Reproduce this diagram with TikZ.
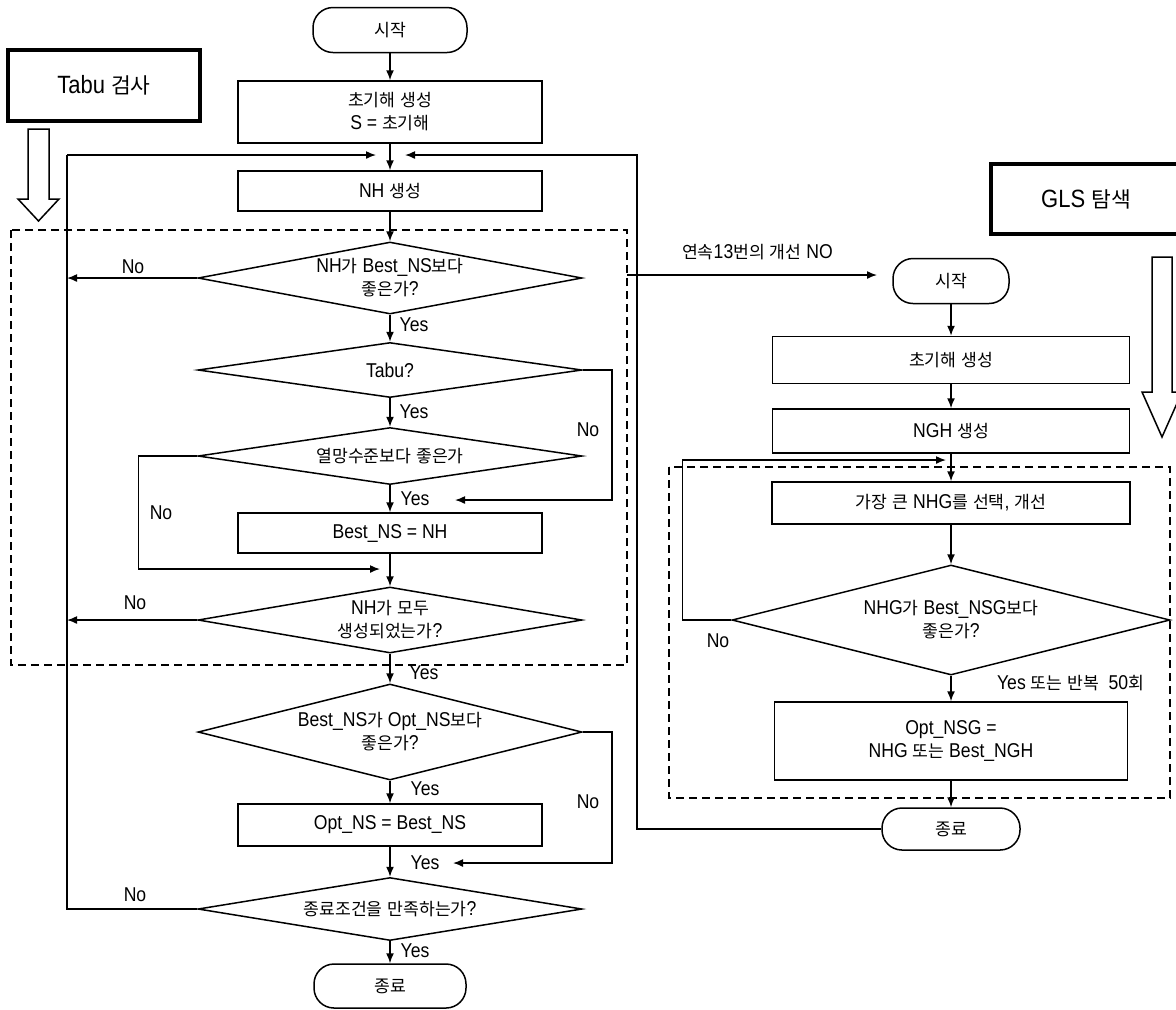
\documentclass[tikz,border=0pt]{standalone}
\usepackage{fontspec}
\usetikzlibrary{shapes.geometric,arrows.meta}
\setmainfont{Liberation Sans}[FakeStretch=0.88]
\newfontfamily\latinfont{Liberation Sans}[FakeStretch=0.88]
\newfontfamily\krfont{Noto Sans CJK KR}[Scale=0.86]
% hangul runs switch to the CJK font
\XeTeXinterchartokenstate=1
\newXeTeXintercharclass\hangulclass
\count255="AC00
\loop
  \XeTeXcharclass\count255=\hangulclass
  \advance\count255 by 1
\ifnum\count255<"D7A4
\repeat
\XeTeXinterchartoks 0 \hangulclass = {\krfont}
\XeTeXinterchartoks 4095 \hangulclass = {\krfont}
\XeTeXinterchartoks \hangulclass 0 = {\latinfont}
\XeTeXinterchartoks \hangulclass 4095 = {\latinfont}

\begin{document}
\begin{tikzpicture}[x=0.5pt,y=-0.5pt,font=\fontsize{10pt}{11.5pt}\selectfont,
  box/.style={draw,line width=0.75pt,minimum width=152pt,minimum height=20pt,inner sep=1pt,align=center},
  term/.style={draw,line width=0.75pt,rounded corners=10pt,minimum height=22.5pt,inner sep=1pt},
  cond/.style={draw,diamond,line width=0.75pt,inner sep=0pt,align=center},
  title/.style={draw,line width=2pt,font=\fontsize{12.5pt}{15pt}\selectfont},
  arr/.style={line width=0.75pt,-{Latex[length=5pt,width=4pt]}},
  ln/.style={line width=0.75pt},
  frame/.style={line width=0.75pt,dash pattern=on 4pt off 2.5pt}]
\useasboundingbox (0,0) rectangle (1176,1009);
\clip (0,0) rectangle (1176,1009);

% Tabu search
\node[title,minimum width=96pt,minimum height=35.5pt] (tabuhd) at (104,85) {Tabu 검사};
\draw[ln] (28,129) -- (49,129) -- (49,199) -- (59,199) -- (38.5,221) -- (18,199) -- (28,199) -- cycle;

\node[term,minimum width=77pt] (start) at (390,30) {시작};
\node[box,minimum height=31pt] (init) at (390,112) {초기해 생성\\S = 초기해};
\node[box] (nh) at (390,191) {NH 생성};
\node[cond,minimum width=192pt,minimum height=36pt,aspect=5.33] (better) at (390,278) {NH가 Best\_NS보다\\좋은가?};
\node[cond,minimum width=192pt,minimum height=27.5pt,aspect=7] (tabu) at (390,370) {Tabu?};
\node[cond,minimum width=192pt,minimum height=28.5pt,aspect=6.7] (aspir) at (390,456) {열망수준보다 좋은가};
\node[box] (bestset) at (390,533) {Best\_NS = NH};
\node[cond,minimum width=192pt,minimum height=33pt,aspect=5.8] (allgen) at (390,620) {NH가 모두\\생성되었는가?};
\node[cond,minimum width=192pt,minimum height=48pt,aspect=4] (optbetter) at (390,732) {Best\_NS가 Opt\_NS보다\\좋은가?};
\node[box,minimum height=21pt] (optset) at (390,825) {Opt\_NS = Best\_NS};
\node[cond,minimum width=192pt,minimum height=31.5pt,aspect=6.1] (stopchk) at (390,909) {종료조건을 만족하는가?};
\node[term,minimum width=76pt,minimum height=22pt] (stop) at (390,986) {종료};

\coordinate (jl) at (376,155);
\coordinate (jr) at (405,155);
\coordinate (lbus) at (67,155);
\coordinate (rbus) at (637,155);
\coordinate (tabuin) at (455,500);
\coordinate (aspout) at (380,569);
\coordinate (optin) at (453,863);

\draw[arr] (start) -- (init);
\draw[arr] (init) -- (nh);
\draw[arr] (nh) -- (better);
\draw[arr] (better) -- (tabu);
\draw[arr] (tabu) -- (aspir);
\draw[arr] (aspir) -- (bestset);
\draw[arr] (bestset) -- (allgen);
\draw[arr] (allgen) -- (optbetter);
\draw[arr] (optbetter) -- (optset);
\draw[arr] (optset) -- (stopchk);
\draw[arr] (stopchk) -- (stop);

\draw[ln] (stopchk.west) -| (lbus);
\draw[arr] (lbus) -- (jl);
\draw[arr] (better.west) -- (better.west -| lbus);
\draw[arr] (allgen.west) -- (allgen.west -| lbus);
\draw[arr] (tabu.east) -- ++(29,0) |- (tabuin);
\draw[arr] (aspir.west) -- ++(-59,0) |- (aspout);
\draw[arr] (optbetter.east) -- ++(29,0) |- (optin);

\draw[frame] (11,230) rectangle (627,665);

% GLS search
\node[title,minimum width=95pt,minimum height=35pt,anchor=west] (glshd) at (989,199) {GLS 탐색};
\draw[ln] (1152,257) -- (1172,257) -- (1172,392) -- (1182,392) -- (1162,437) -- (1142,392) -- (1152,392) -- cycle;

\node[term,minimum width=58pt] (gstart) at (951,281) {시작};
\node[box,minimum width=178.5pt,minimum height=23.5pt] (ginit) at (951,360) {초기해 생성};
\node[box,minimum width=178.5pt,minimum height=22pt] (ngh) at (951,431) {NGH 생성};
\node[box,minimum width=179pt,minimum height=21pt] (gsel) at (951,503) {가장 큰 NHG를 선택, 개선};
\node[cond,minimum width=219pt,minimum height=55pt,aspect=4] (gbetter) at (951,620) {NHG가 Best\_NSG보다\\좋은가?};
\node[box,minimum width=176.5pt,minimum height=39pt] (gopt) at (951,741) {Opt\_NSG =\\NHG 또는 Best\_NGH};
\node[term,minimum width=69pt,minimum height=21pt] (gstop) at (951,829) {종료};

\coordinate (fout) at (627,275);
\coordinate (gin) at (877,275);
\coordinate (gloop) at (946,460);

\node[anchor=west] (gcap) at (675,252) {연속13번의 개선 NO};
\draw[arr] (fout) -- (gin);
\draw[arr] (gstart) -- (ginit);
\draw[arr] (ginit) -- (ngh);
\draw[arr] (ngh) -- (gsel);
\draw[arr] (gsel) -- (gbetter);
\draw[arr] (gbetter) -- (gopt);
\draw[arr] (gopt) -- (gstop);
\draw[arr] (gbetter.west) -- ++(-49,0) |- (gloop);
\draw[arr] (gstop.west) -| (rbus) -- (jr);
\node[anchor=west] (gyes) at (990,683) {Yes 또는 반복~ 50회};

\draw[frame] (669,467) rectangle (1170,798);

\foreach \x/\y/\lab in {414/325/Yes,414/412/Yes,415/499/Yes,424/673/Yes,425/789/Yes,425/863/Yes,415/951/Yes,
  133/267/No,588/430/No,161/513/No,135/603/No,588/802/No,135/895/No,718/641/No}
  \node (lab\x-\y) at (\x,\y) {\lab};
\end{tikzpicture}
\end{document}
